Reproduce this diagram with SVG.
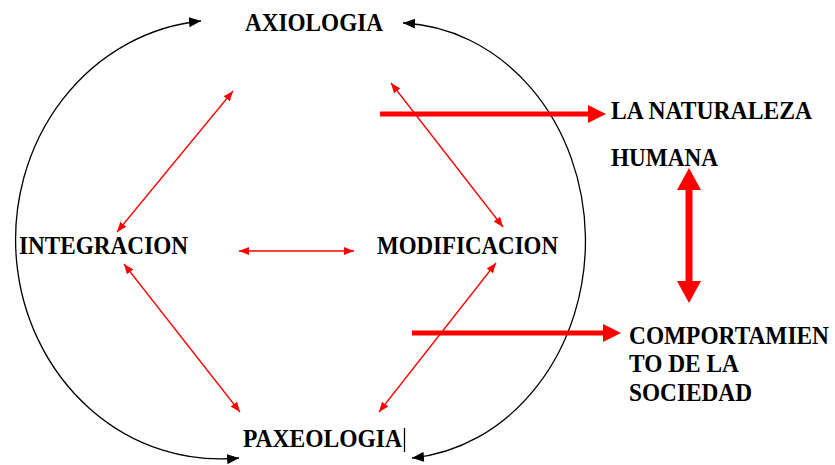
<svg xmlns="http://www.w3.org/2000/svg" width="835" height="465" viewBox="0 0 835 465">
<style>
  .arc { fill: none; stroke: #000; stroke-width: 1.3; marker-start: url(#ab); marker-end: url(#ab); }
  .thin { stroke: #ff0000; stroke-width: 1.3; fill: none; marker-start: url(#ar); marker-end: url(#ar); }
  .thick { stroke: #ff0000; stroke-width: 5; fill: none; }
</style>
<defs>
  <marker id="ab" viewBox="0 0 12 10" refX="12" refY="5" markerWidth="12" markerHeight="10" markerUnits="userSpaceOnUse" orient="auto-start-reverse">
    <path d="M0,0 L12,5 L0,10 z" fill="#000"/>
  </marker>
  <marker id="ar" viewBox="0 0 10 8" refX="10" refY="4" markerWidth="10" markerHeight="8" markerUnits="userSpaceOnUse" orient="auto-start-reverse">
    <path d="M0,0 L10,4 L0,8 z" fill="#ff0000"/>
  </marker>
  <marker id="rt" viewBox="0 0 18 18" refX="0" refY="9" markerWidth="18" markerHeight="18" markerUnits="userSpaceOnUse" orient="auto-start-reverse">
    <path d="M0,0 L18,9 L0,18 z" fill="#ff0000"/>
  </marker>
  <marker id="rv" viewBox="0 0 22 24" refX="0" refY="12" markerWidth="22" markerHeight="24" markerUnits="userSpaceOnUse" orient="auto-start-reverse">
    <path d="M0,0 L22,12 L0,24 z" fill="#ff0000"/>
  </marker>
</defs>
<rect width="835" height="465" fill="#fff"/>
<g id="connectors">
  <path class="arc" d="M201,21 A204,219 0 1 0 239,458"/>
  <path class="arc" d="M403,23 A190,218 0 0 1 412,458"/>
  <line class="thin" x1="233" y1="91" x2="117" y2="232"/>
  <line class="thin" x1="391" y1="83" x2="503" y2="227"/>
  <line class="thin" x1="239" y1="251" x2="354" y2="251"/>
  <line class="thin" x1="124" y1="264" x2="240" y2="412"/>
  <line class="thin" x1="496" y1="263" x2="379" y2="412"/>
  <line class="thick" x1="380" y1="114" x2="588" y2="114" marker-end="url(#rt)"/>
  <line class="thick" x1="412" y1="333" x2="603" y2="333" marker-end="url(#rt)"/>
  <line class="thick" style="stroke-width:7" x1="689" y1="190" x2="689" y2="281" marker-start="url(#rv)" marker-end="url(#rv)"/>
</g>
<g font-family="Liberation Serif, serif" font-weight="bold" font-size="25" fill="#000">
<g id="axiologia"><text x="245" y="31" textLength="138" lengthAdjust="spacingAndGlyphs">AXIOLOGIA</text></g>
<g id="integracion"><text x="19" y="254" textLength="169" lengthAdjust="spacingAndGlyphs">INTEGRACION</text></g>
<g id="modificacion"><text x="377" y="254" textLength="181" lengthAdjust="spacingAndGlyphs">MODIFICACION</text></g>
<g id="paxeologia"><text x="243" y="447" textLength="159" lengthAdjust="spacingAndGlyphs">PAXEOLOGIA</text>
  <line x1="404.5" y1="428" x2="404.5" y2="452" stroke="#000" stroke-width="1.3"/></g>
<g id="naturaleza">
  <text x="611" y="119" textLength="201" lengthAdjust="spacingAndGlyphs">LA NATURALEZA</text>
  <text x="611" y="166" textLength="107" lengthAdjust="spacingAndGlyphs">HUMANA</text>
</g>
<g id="comportamiento">
  <text x="629" y="344" textLength="200" lengthAdjust="spacingAndGlyphs">COMPORTAMIEN</text>
  <text x="629" y="372" textLength="110" lengthAdjust="spacingAndGlyphs">TO DE LA</text>
  <text x="629" y="401" textLength="123" lengthAdjust="spacingAndGlyphs">SOCIEDAD</text>
</g>
</g>
</svg>
